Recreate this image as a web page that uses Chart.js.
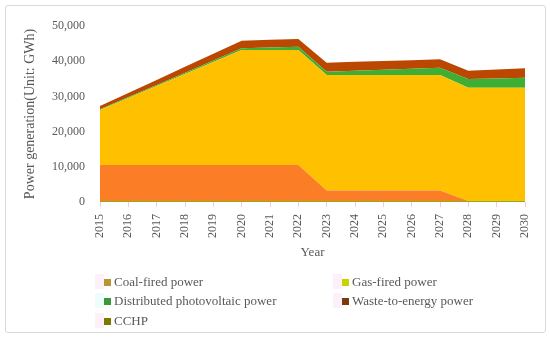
<!DOCTYPE html>
<html>
<head>
<meta charset="utf-8">
<script src="https://cdn.jsdelivr.net/npm/chart.js@4"></script>
<style>
  body { margin: 0; background: #fff; }
  #wrap { position: relative; width: 550px; height: 339px; }
  #frame { position: absolute; left: 5px; top: 5px; width: 539px; height: 326px;
           border: 1px solid #d9d9d9; border-radius: 3px; }
  #c { position: absolute; left: 0; top: 0; }
  .lg { position: absolute; font: 13px "Liberation Serif", serif; color: #595959;
        height: 15px; line-height: 15px; white-space: nowrap; }
  .lg .bg { position: absolute; left: -9px; top: 0; width: 9px; height: 15px; }
  .lg .box { display: inline-block; width: 7px; height: 7px; margin-right: 3px; vertical-align: 0px; }
</style>
</head>
<body>
<div id="wrap">
  <div id="frame"></div>
  <canvas id="c" width="550" height="339"></canvas>
  <div id="legend"></div>
</div>
<script>
const years = ['2015','2016','2017','2018','2019','2020','2021','2022','2023','2024','2025','2026','2027','2028','2029','2030'];
const cchp  = [300,300,300,300,300,300,300,300,300,300,300,300,300,300,300,300];
const coal  = [10200,10200,10200,10200,10200,10200,10200,10200,3000,3000,3000,3000,3000,0,0,0];
const gas   = [15640,19050,22450,25860,29270,32680,32700,32700,32780,32780,32780,32780,32780,32170,32170,32170];
const pv    = [200,250,300,350,420,480,700,900,940,1220,1500,1780,2070,2470,2650,2840];
const waste = [930,1180,1430,1680,1920,2170,2190,2200,2560,2520,2480,2430,2390,2360,2520,2670];

const names = ['Coal-fired power','Gas-fired power','Distributed photovoltaic power','Waste-to-energy power','CCHP'];
const legendColors = ['#b8962e','#c8d400','#3c963c','#7a3a10','#7a7a00'];
const legendBg = ['#fdf0fb','#fdf0fb','#eefcfc','#fdf0fb','#fdf0fb'];

const grey = '#595959';
const font = "'Liberation Serif', serif";

function area(label, data, color, fill) {
  return { label: label, data: data, backgroundColor: color, borderColor: color,
           borderWidth: 0, pointRadius: 0, fill: fill, tension: 0 };
}

new Chart(document.getElementById('c').getContext('2d'), {
  type: 'line',
  data: {
    labels: years,
    datasets: [
      area('CCHP', cchp, '#8fae1b', 'origin'),
      area('Coal-fired power', coal, '#fb7e27', '-1'),
      area('Gas-fired power', gas, '#ffc000', '-1'),
      area('Distributed photovoltaic power', pv, '#3fae34', '-1'),
      area('Waste-to-energy power', waste, '#bb4700', '-1')
    ]
  },
  options: {
    responsive: false,
    animation: false,
    layout: { padding: { left: 18, right: 25, top: 26, bottom: 75 } },
    plugins: { legend: { display: false }, tooltip: { enabled: false } },
    scales: {
      x: {
        offset: false,
        grid: { drawOnChartArea: false, drawTicks: true, tickLength: 5, color: '#f6c6ee' },
        border: { display: false },
        ticks: { color: grey, font: { family: font, size: 12 }, minRotation: 90, maxRotation: 90, padding: 7 },
        title: { display: true, text: 'Year', color: grey, font: { family: font, size: 13 } },
        afterFit: function (s) { s.height = 62; }
      },
      y: {
        stacked: true,
        min: 0, max: 50000,
        grid: { display: false, drawTicks: false },
        border: { display: false },
        ticks: { stepSize: 10000, color: grey, font: { family: font, size: 12 }, padding: 15 },
        title: { display: true, text: 'Power generation(Unit: GWh)', color: grey, font: { family: font, size: 14 } },
        afterFit: function (s) { s.width = 82; }
      }
    }
  }
});

// legend in two columns, as in the reference
const legendPos = [[114, 274], [352, 274], [114, 293], [352, 293], [114, 313]];
const lg = document.getElementById('legend');
names.forEach(function (n, i) {
  const d = document.createElement('div');
  d.className = 'lg';
  d.style.left = (legendPos[i][0] - 10) + 'px';
  d.style.top = legendPos[i][1] + 'px';
  d.innerHTML = '<span class="bg" style="background:' + legendBg[i] + '"></span>' +
                '<span class="box" style="background:' + legendColors[i] + '"></span>' + n;
  lg.appendChild(d);
});
</script>
</body>
</html>
